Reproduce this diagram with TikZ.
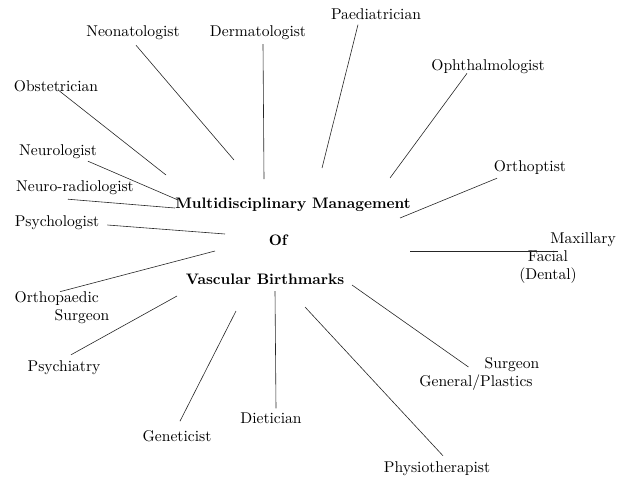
\documentclass[tikz,border=0pt]{standalone}
\usepackage{fontspec}
\setmainfont{lmroman10-regular.otf}[BoldFont=lmroman10-bold.otf]
\usepackage{tikz}
\tikzset{
  % labels round the hub
  lbl/.style={inner sep=1pt,font=\fontsize{15.6}{18}\selectfont},
  hubtext/.style={inner sep=1pt,font=\fontsize{15.2}{18}\selectfont\bfseries},
  spoke/.style={line width=.6pt,color=black!85},
}

\begin{document}
\begin{tikzpicture}[x=1pt,y=-1pt]
\useasboundingbox (0,0) rectangle (629,479);

\node[hubtext] (mdm) at (293,205) {Multidisciplinary Management};
\node[hubtext] (of) at (278,240) {Of};
\node[hubtext] (vb) at (265,279) {Vascular Birthmarks};

\node[lbl] (neo) at (133,33) {Neonatologist};
\node[lbl] (derm) at (258,33) {Dermatologist};
\node[lbl] (paed) at (376,14) {Paediatrician};
\node[lbl] (oph) at (488,67) {Ophthalmologist};
\node[lbl] (obs) at (56,86) {Obstetrician};
\node[lbl] (orth) at (530,168) {Orthoptist};
\node[lbl] (neu) at (58,152) {Neurologist};
\node[lbl] (nrad) at (75,188) {Neuro-radiologist};
\node[lbl] (psy) at (57,223) {Psychologist};
\node[lbl] (maxi) at (583,240) {Maxillary};
\node[lbl,align=center] (fd) at (548,267) {Facial\\(Dental)};
\node[lbl,align=left] (orp) at (62,308) {Orthopaedic\\\hspace{40pt}Surgeon};
\node[lbl] (psyc) at (64,368) {Psychiatry};
\node[lbl] (surg) at (512,365) {Surgeon};
\node[lbl] (gp) at (476,383) {General/Plastics};
\node[lbl] (gen) at (177,436) {Geneticist};
\node[lbl] (diet) at (271,418) {Dietician};
\node[lbl] (phys) at (437,469) {Physiotherapist};

% inner ends of the spokes
\coordinate (h-neo) at (234,160);
\coordinate (h-derm) at (264,179);
\coordinate (h-paed) at (322,168);
\coordinate (h-oph) at (390,178);
\coordinate (h-obs) at (166,175);
\coordinate (h-orth) at (400,218);
\coordinate (h-neu) at (178,200);
\coordinate (h-nrad) at (175,208);
\coordinate (h-psy) at (225,234);
\coordinate (h-maxi) at (410,251);
\coordinate (h-orp) at (215,251);
\coordinate (h-psyc) at (177,296);
\coordinate (h-surg) at (352,285);
\coordinate (h-gen) at (236,311);
\coordinate (h-diet) at (275,291);
\coordinate (h-phys) at (305,307);

\draw[spoke] ([xshift=3pt,yshift=-4pt]neo.south) -- (h-neo);
\draw[spoke] ([xshift=5pt,yshift=-3pt]derm.south) -- (h-derm);
\draw[spoke] ([xshift=-18pt,yshift=-4pt]paed.south) -- (h-paed);
\draw[spoke] ([xshift=-21pt,yshift=2pt]oph.south) -- (h-oph);
\draw[spoke] ([xshift=2pt,yshift=3pt]obs.south) -- (h-obs);
\draw[spoke] ([xshift=-33pt,yshift=-2pt]orth.south) -- (h-orth);
\draw[spoke] ([xshift=30pt,yshift=-1pt]neu.south) -- (h-neu);
\draw[spoke] ([xshift=-7pt,yshift=-3pt]nrad.south) -- (h-nrad);
\draw[spoke] ([xshift=7pt,yshift=-2pt]psy.east) -- (h-psy);
\draw[spoke] (h-maxi) -- ([xshift=9pt]h-maxi -| maxi.west);
\draw[spoke] ([xshift=-2pt,yshift=-1pt]orp.north) -- (h-orp);
\draw[spoke] ([xshift=7pt,yshift=5pt]psyc.north) -- (h-psyc);
\draw[spoke] ([xshift=-15pt,yshift=-2pt]surg.west) -- (h-surg);
\draw[spoke] ([xshift=3pt,yshift=8pt]gen.north) -- (h-gen);
\draw[spoke] ([xshift=5pt,yshift=3pt]diet.north) -- (h-diet);
\draw[spoke] ([xshift=6pt,yshift=5pt]phys.north) -- (h-phys);

\end{tikzpicture}
\end{document}
